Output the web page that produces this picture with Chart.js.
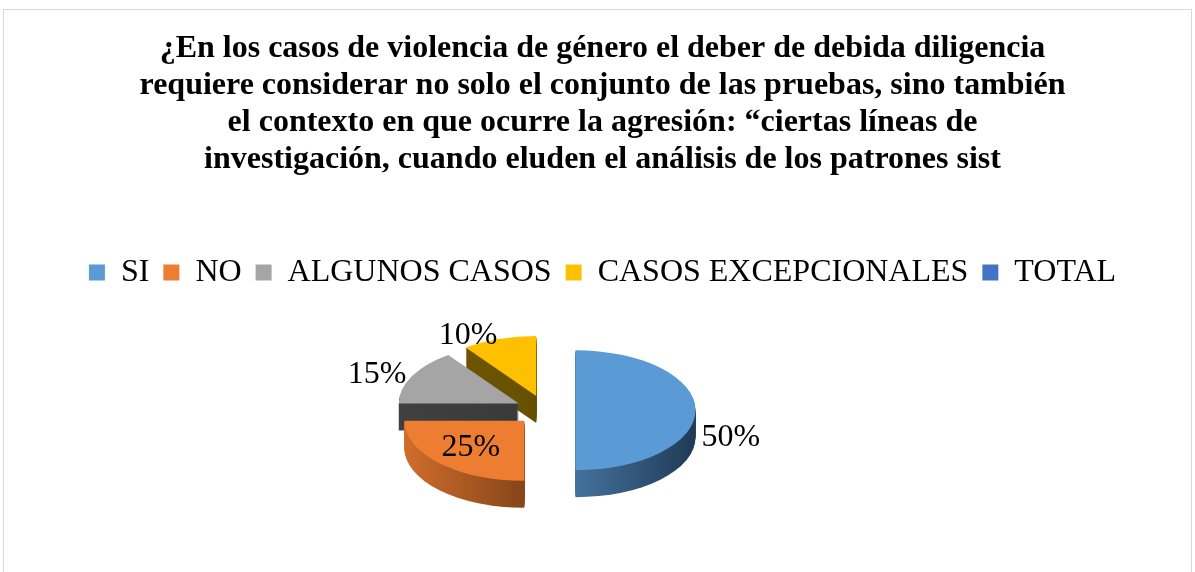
<!DOCTYPE html>
<html>
<head>
<meta charset="utf-8">
<script src="https://cdn.jsdelivr.net/npm/chart.js@4"></script>
<style>
  html, body { margin: 0; padding: 0; background: #fff; }
  #wrap { position: relative; width: 1195px; height: 572px; overflow: hidden; }
  #wrap canvas { position: absolute; left: 0; top: 0; }
  #frame { position: absolute; left: 3px; top: 9px; width: 1189px; height: 600px;
           border: 1px solid #d9d9d9; box-sizing: border-box; pointer-events: none; }
</style>
</head>
<body>
<div id="wrap">
  <canvas id="pie-3d" width="1195" height="572"></canvas>
  <div id="frame"></div>
</div>
<script>
// --- data ---
const titleLines = [
  "¿En los casos de violencia de género el deber de debida diligencia",
  "requiere considerar no solo el conjunto de las pruebas, sino también",
  "el contexto en que ocurre la agresión: “ciertas líneas de",
  "investigación, cuando eluden el análisis de los patrones sist"
];
const categories = ["SI", "NO", "ALGUNOS CASOS", "CASOS EXCEPCIONALES", "TOTAL"];
const values = [50, 25, 15, 10, 0];

// --- styles ---
const topColors = ["#5B9BD5", "#ED7D31", "#A5A5A5", "#FFC000", "#4472C4"];
const sideColors = [
  ["#44729e", "#203a55"],
  ["#d06d2c", "#86451a"],
  ["#404040", "#3a3a3a"],
  ["#6d5500", "#665000"],
  ["#2f528f", "#2f528f"]
];
const labelInside = [false, true, false, false, false];
const FONT = "'Liberation Serif', 'Times New Roman', serif";
const TILT = 0.5;      // vertical squash of the pie
const DEPTH = 27;      // side height in screen px
const EXPLODE = 30;    // radial pull-out of each slice
const PIE_SHIFT_X = -57; // pie sits left of the centred title/legend

document.addEventListener("DOMContentLoaded", () => {
  const canvas = document.getElementById("pie-3d");
  const total = values.reduce((s, v) => s + v, 0);

  const midOf = a => (a.startAngle + a.endAngle) / 2;

  // draws the tilted, extruded pie using the arc geometry Chart.js computed
  const pie3d = {
    id: "pie3d",
    beforeDatasetsDraw(chart) {
      const ctx = chart.ctx;
      const arcs = chart.getDatasetMeta(0).data;
      const cy = arcs[0].y;
      const live = arcs.map((a, i) => i).filter(i => arcs[i].circumference > 0);
      // back to front
      live.sort((i, j) => Math.sin(midOf(arcs[i])) - Math.sin(midOf(arcs[j])));

      ctx.save();
      ctx.translate(PIE_SHIFT_X, cy);
      ctx.scale(1, TILT);
      ctx.translate(0, -cy);

      // sides
      live.forEach(i => {
        const a = arcs[i];
        const m = midOf(a);
        const ox = a.x + Math.cos(m) * EXPLODE;
        const oy = a.y + Math.sin(m) * EXPLODE;
        let minX = ox, maxX = ox;
        for (let k = 0; k <= 24; k++) {
          const t = a.startAngle + (a.endAngle - a.startAngle) * k / 24;
          const px = ox + Math.cos(t) * a.outerRadius;
          minX = Math.min(minX, px); maxX = Math.max(maxX, px);
        }
        const grad = ctx.createLinearGradient(minX, 0, maxX, 0);
        grad.addColorStop(0, sideColors[i][0]);
        grad.addColorStop(1, sideColors[i][1]);
        ctx.fillStyle = grad;
        for (let d = DEPTH; d >= 1; d--) {
          const y = oy + d / TILT;
          ctx.beginPath();
          ctx.moveTo(ox, y);
          ctx.arc(ox, y, a.outerRadius, a.startAngle, a.endAngle);
          ctx.closePath();
          ctx.fill();
        }
      });

      // tops
      live.forEach(i => {
        const a = arcs[i];
        const m = midOf(a);
        ctx.save();
        ctx.translate(Math.cos(m) * EXPLODE, Math.sin(m) * EXPLODE);
        a.draw(ctx);
        ctx.restore();
      });
      ctx.restore();

      // percentage labels
      ctx.save();
      ctx.fillStyle = "#000";
      ctx.font = "32px " + FONT;
      ctx.textBaseline = "middle";
      live.forEach(i => {
        const a = arcs[i];
        const m = midOf(a);
        const c = Math.cos(m), s = Math.sin(m);
        const txt = Math.round(values[i] / total * 100) + "%";
        let r, align, extra = 0;
        if (labelInside[i]) {
          r = a.outerRadius * 0.63;
          align = "center";
        } else {
          r = a.outerRadius + 6;
          align = c > 0.2 ? "left" : (c < -0.2 ? "right" : "center");
          extra = DEPTH * Math.max(0, c);
        }
        const sx = PIE_SHIFT_X + a.x + c * EXPLODE + c * r;
        const sy = cy + (a.y - cy + s * EXPLODE + s * r) * TILT + extra;
        ctx.textAlign = align;
        ctx.fillText(txt, sx, sy);
      });
      ctx.restore();
      return false;
    }
  };

  new Chart(canvas.getContext("2d"), {
    type: "pie",
    data: {
      labels: categories,
      datasets: [{
        data: values,
        backgroundColor: topColors,
        borderWidth: 0,
        radius: 120
      }]
    },
    options: {
      responsive: false,
      animation: false,
      layout: { padding: { left: 10, right: 0, top: 0, bottom: 50 } },
      plugins: {
        tooltip: { enabled: false },
        title: {
          display: true,
          text: titleLines,
          color: "#000",
          font: { family: FONT, size: 32, weight: "bold", lineHeight: 1.16 },
          padding: { top: 30, bottom: 64 }
        },
        legend: {
          position: "top",
          labels: {
            boxWidth: 16,
            boxHeight: 16,
            padding: 14,
            color: "#000",
            font: { family: FONT, size: 32 }
          }
        }
      }
    },
    plugins: [pie3d]
  });
});
</script>
</body>
</html>
